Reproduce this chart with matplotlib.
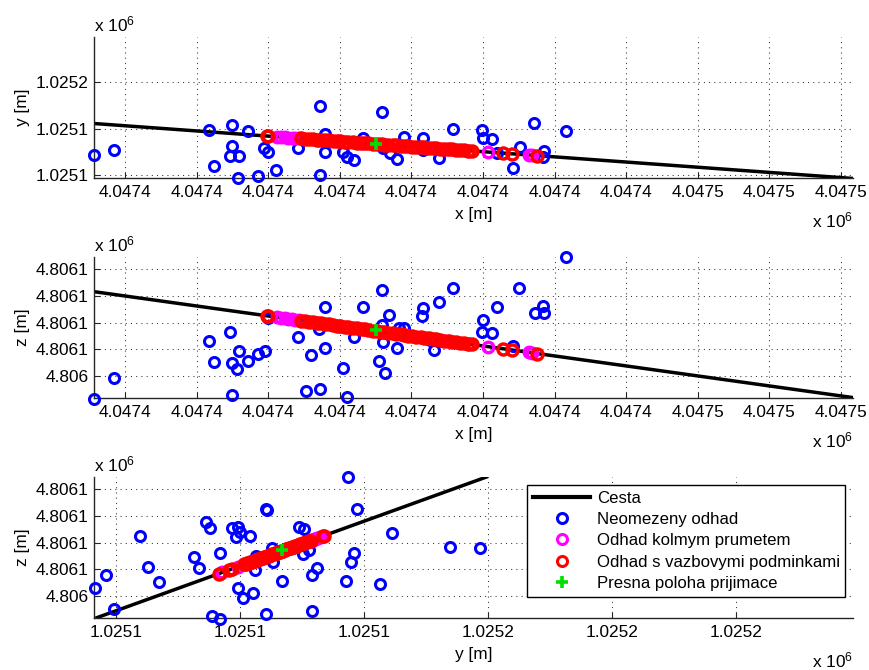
import matplotlib
matplotlib.use("Agg")
import matplotlib.pyplot as plt
from matplotlib.lines import Line2D

plt.rcParams['font.family'] = ['Liberation Sans', 'DejaVu Sans']
plt.rcParams['mathtext.default'] = 'regular'
FS = 12.4
FS_LEG = 12.1

# ---------------- data ----------------
# road (Cesta) end points in 3D
road_x = [4047390.50, 4047460.84]
road_y = [1025149.99, 1025146.85]
road_z = [4806053.46, 4806048.19]

# true receiver position
true_x = [4047427.53]
true_y = [1025148.34]
true_z = [4806050.73]

# unconstrained estimates, x-y view
blue_xy_x = [4047407.84, 4047409.23, 4047415.85, 4047417.49, 4047418.61, 4047417.49, 4047417.31,
             4047417.96, 4047416.22, 4047417.87, 4047419.31, 4047419.69, 4047420.01, 4047420.57,
             4047422.10, 4047423.60, 4047423.97, 4047423.60, 4047423.99, 4047425.24, 4047425.48,
             4047425.99, 4047426.60, 4047427.93, 4047428.04, 4047428.51, 4047429.02, 4047429.48,
             4047430.83, 4047430.79, 4047431.95, 4047432.88, 4047434.91, 4047435.02, 4047435.61,
             4047435.96, 4047437.07, 4047437.58, 4047438.58, 4047439.28, 4047439.21, 4047440.80]
blue_xy_y = [1025147.86, 1025148.08, 1025148.92, 1025149.15, 1025148.88, 1025148.25, 1025147.83,
             1025147.83, 1025147.39, 1025146.86, 1025146.96, 1025148.15, 1025148.00, 1025147.20,
             1025148.15, 1025149.97, 1025148.00, 1025147.00, 1025148.75, 1025148.00, 1025147.79,
             1025147.65, 1025148.58, 1025149.72, 1025148.15, 1025147.93, 1025147.69, 1025148.65,
             1025148.60, 1025148.08, 1025147.72, 1025148.98, 1025148.94, 1025148.58, 1025148.54,
             1025147.93, 1025147.29, 1025148.22, 1025149.25, 1025148.03, 1025147.79, 1025148.89]

# unconstrained estimates, x-z view
blue_xz_x = [4047407.84, 4047409.23, 4047415.85, 4047417.31, 4047416.22, 4047417.96, 4047417.49,
             4047417.84, 4047418.61, 4047419.29, 4047419.76, 4047417.49, 4047420.01, 4047422.10,
             4047422.97, 4047423.97, 4047423.97, 4047423.57, 4047422.66, 4047423.60, 4047425.24,
             4047425.50, 4047425.99, 4047426.60, 4047427.93, 4047428.42, 4047428.02, 4047427.76,
             4047428.14, 4047428.97, 4047427.93, 4047429.13, 4047429.52, 4047430.81, 4047430.72,
             4047431.30, 4047431.58, 4047431.93, 4047432.88, 4047434.98, 4047434.91, 4047435.65,
             4047436.00, 4047437.07, 4047437.54, 4047438.63, 4047439.17, 4047439.28, 4047440.80]
blue_xz_z = [4806048.14, 4806048.91, 4806050.31, 4806050.64, 4806049.54, 4806049.94, 4806049.48,
             4806049.26, 4806049.56, 4806049.81, 4806049.94, 4806048.29, 4806051.16, 4806050.46,
             4806049.77, 4806050.04, 4806051.57, 4806050.76, 4806048.45, 4806048.50, 4806049.30,
             4806048.22, 4806050.48, 4806051.60, 4806052.24, 4806051.29, 4806050.29, 4806049.56,
             4806049.12, 4806050.04, 4806050.91, 4806050.79, 4806050.79, 4806051.54, 4806051.26,
             4806050.35, 4806049.97, 4806051.78, 4806052.29, 4806051.10, 4806050.64, 4806050.60,
             4806051.57, 4806050.14, 4806052.29, 4806051.35, 4806051.62, 4806051.35, 4806053.45]

# unconstrained estimates, y-z view
blue_yz_y = [1025146.83, 1025146.92, 1025146.99, 1025147.20, 1025147.26, 1025147.35, 1025147.63,
             1025147.67, 1025147.73, 1025147.76, 1025147.84, 1025147.78, 1025147.84, 1025147.94,
             1025147.99, 1025148.00, 1025147.97, 1025148.08, 1025147.99, 1025148.03, 1025148.11,
             1025148.12, 1025148.13, 1025148.21, 1025148.22, 1025148.21, 1025148.26, 1025148.27,
             1025148.34, 1025148.48, 1025148.52, 1025148.51, 1025148.56, 1025148.58, 1025148.62,
             1025148.58, 1025148.87, 1025148.95, 1025148.86, 1025148.92, 1025148.90, 1025149.13,
             1025149.23, 1025149.70, 1025149.94]
blue_yz_z = [4806049.29, 4806049.79, 4806048.50, 4806051.26, 4806050.10, 4806049.54, 4806050.47,
             4806050.04, 4806051.78, 4806051.56, 4806050.62, 4806048.25, 4806048.13, 4806051.54,
             4806051.60, 4806051.41, 4806051.20, 4806051.25, 4806049.31, 4806048.91, 4806049.10,
             4806049.97, 4806050.50, 4806052.25, 4806052.22, 4806048.31, 4806050.79, 4806050.29,
             4806049.56, 4806051.57, 4806051.52, 4806050.56, 4806050.72, 4806049.77, 4806050.06,
             4806048.45, 4806053.46, 4806052.27, 4806049.57, 4806050.63, 4806050.29, 4806049.44,
             4806051.35, 4806050.82, 4806050.79]

# perpendicular projection estimates (3D)
mag_x = [4047420.65, 4047420.90, 4047421.15, 4047421.40, 4047421.65, 4047421.90, 4047422.15,
         4047423.50, 4047425.00, 4047426.60, 4047428.00, 4047429.60, 4047431.00, 4047432.50,
         4047434.00, 4047435.37, 4047438.21, 4047438.40]
mag_y = [1025148.644, 1025148.633, 1025148.622, 1025148.611, 1025148.599, 1025148.588, 1025148.577,
         1025148.517, 1025148.450, 1025148.378, 1025148.316, 1025148.245, 1025148.182, 1025148.115,
         1025148.048, 1025147.987, 1025147.860, 1025147.852]
mag_z = [4806051.201, 4806051.182, 4806051.164, 4806051.145, 4806051.126, 4806051.108, 4806051.089,
         4806050.988, 4806050.875, 4806050.755, 4806050.650, 4806050.531, 4806050.426, 4806050.313,
         4806050.201, 4806050.098, 4806049.886, 4806049.871]

# constrained estimates (3D)
red_x = [4047419.92, 4047420.02, 4047422.29, 4047422.55, 4047422.85, 4047423.10, 4047423.40,
         4047423.68, 4047423.95, 4047424.22, 4047424.50, 4047424.80, 4047425.05, 4047425.35,
         4047425.60, 4047425.90, 4047426.18, 4047426.45, 4047426.75, 4047427.00, 4047427.30,
         4047427.58, 4047427.85, 4047428.12, 4047428.40, 4047428.70, 4047428.95, 4047429.25,
         4047429.52, 4047429.80, 4047430.08, 4047430.35, 4047430.65, 4047430.90, 4047431.20,
         4047431.48, 4047431.75, 4047432.02, 4047432.30, 4047432.60, 4047432.85, 4047433.15,
         4047433.42, 4047433.70, 4047433.98, 4047434.23, 4047436.40, 4047437.03, 4047438.79]
red_y = [1025148.677, 1025148.672, 1025148.571, 1025148.559, 1025148.546, 1025148.535, 1025148.521,
         1025148.509, 1025148.497, 1025148.485, 1025148.472, 1025148.459, 1025148.448, 1025148.434,
         1025148.423, 1025148.410, 1025148.397, 1025148.385, 1025148.372, 1025148.361, 1025148.347,
         1025148.335, 1025148.323, 1025148.311, 1025148.298, 1025148.285, 1025148.274, 1025148.260,
         1025148.248, 1025148.236, 1025148.223, 1025148.211, 1025148.198, 1025148.187, 1025148.173,
         1025148.161, 1025148.149, 1025148.137, 1025148.124, 1025148.111, 1025148.100, 1025148.086,
         1025148.074, 1025148.062, 1025148.049, 1025148.038, 1025147.941, 1025147.913, 1025147.834]
red_z = [4806051.256, 4806051.248, 4806051.078, 4806051.059, 4806051.036, 4806051.018, 4806050.995,
         4806050.974, 4806050.954, 4806050.934, 4806050.913, 4806050.890, 4806050.872, 4806050.849,
         4806050.830, 4806050.808, 4806050.787, 4806050.767, 4806050.744, 4806050.725, 4806050.703,
         4806050.682, 4806050.662, 4806050.642, 4806050.621, 4806050.598, 4806050.579, 4806050.557,
         4806050.537, 4806050.516, 4806050.495, 4806050.474, 4806050.452, 4806050.433, 4806050.411,
         4806050.390, 4806050.370, 4806050.349, 4806050.328, 4806050.306, 4806050.287, 4806050.265,
         4806050.244, 4806050.223, 4806050.202, 4806050.184, 4806050.021, 4806049.974, 4806049.842]

# ticks / labels
x_ticks = [4047410, 4047415, 4047420, 4047425, 4047430, 4047435, 4047440, 4047445, 4047450, 4047455, 4047460]
x_tick_labels = ['4.0474'] * 8 + ['4.0475'] * 3
y_ticks_1 = [1025147, 1025149, 1025151]
y_tick_labels_1 = ['1.0251', '1.0251', '1.0252']
y_ticks_3 = [1025147, 1025148, 1025149, 1025150, 1025151, 1025152]
y_tick_labels_3 = ['1.0251'] * 3 + ['1.0252'] * 3
z_ticks = [4806049, 4806050, 4806051, 4806052, 4806053]
z_tick_labels = ['4.806', '4.8061', '4.8061', '4.8061', '4.8061']

x_lim = [4047407.84, 4047460.84]
y_lim_1 = [1025146.87, 1025152.94]
y_lim_3 = [1025146.825, 1025152.946]
z_lim = [4806048.175, 4806053.46]

legend_labels = ['Cesta', 'Neomezeny odhad', 'Odhad kolmym prumetem',
                 'Odhad s vazbovymi podminkami', 'Presna poloha prijimace']

# ---------------- style ----------------
C_BLUE = '#0000ff'
C_MAG = '#ff00ff'
C_RED = '#ff0000'
C_GREEN = '#00e000'
blue_kw = dict(ls='none', marker='o', ms=7.2, mew=2.2, mfc='none', mec=C_BLUE, clip_on=False, zorder=3)
mag_kw = dict(ls='none', marker='o', ms=7.6, mew=2.4, mfc='none', mec=C_MAG, clip_on=False, zorder=4)
red_kw = dict(ls='none', marker='o', ms=7.9, mew=2.5, mfc='none', mec=C_RED, clip_on=False, zorder=5)
green_kw = dict(ls='none', marker='+', ms=8.5, mew=2.6, color=C_GREEN, clip_on=False, zorder=6)
road_kw = dict(color='k', lw=2.5, zorder=2)

fig = plt.figure(figsize=(8.69, 6.70), dpi=100)
L, W, H = 94 / 869, 759 / 869, 141 / 670
bottoms = [1 - 178 / 670, 1 - 398 / 670, 1 - 618 / 670]


def style_axes(ax, xticks, xlabels, yticks, ylabels, xlim, ylim, xlab, ylab):
    ax.set_xlim(xlim)
    ax.set_ylim(ylim)
    ax.set_xticks(xticks)
    ax.set_xticklabels(xlabels)
    ax.set_yticks(yticks)
    ax.set_yticklabels(ylabels)
    for s in ['top', 'right']:
        ax.spines[s].set_visible(False)
    for s in ['left', 'bottom']:
        ax.spines[s].set_color('#262626')
        ax.spines[s].set_linewidth(1.0)
    ax.tick_params(direction='in', length=4, width=0.8, color='#262626', labelsize=FS)
    ax.tick_params(axis='x', pad=5)
    ax.tick_params(axis='y', pad=4)
    ax.grid(True, linestyle=(0, (1, 4)), color='#333333', lw=0.75)
    ax.set_axisbelow(True)
    ax.set_xlabel(xlab, fontsize=FS)
    ax.set_ylabel(ylab, fontsize=FS)
    ax.xaxis.set_label_coords(0.5, -37 / 141)
    ax.xaxis.label.set_va('center')
    ax.yaxis.set_label_coords(-72 / 759, 0.5)
    ax.yaxis.label.set_va('center')
    ax.text(0.0, 1 + 13 / 141, r'x 10$^{6}$', transform=ax.transAxes, fontsize=FS,
            ha='left', va='center')
    ax.text(1.0, -42 / 141, r'x 10$^{6}$', transform=ax.transAxes, fontsize=FS,
            ha='right', va='center')


# subplot 1: x-y
ax1 = fig.add_axes([L, bottoms[0], W, H])
ax1.plot(road_x, road_y, **road_kw)
ax1.plot(blue_xy_x, blue_xy_y, **blue_kw)
ax1.plot(mag_x, mag_y, **mag_kw)
ax1.plot(red_x, red_y, **red_kw)
ax1.plot(true_x, true_y, **green_kw)
style_axes(ax1, x_ticks, x_tick_labels, y_ticks_1, y_tick_labels_1, x_lim, y_lim_1, 'x [m]', 'y [m]')

# subplot 2: x-z
ax2 = fig.add_axes([L, bottoms[1], W, H])
ax2.plot(road_x, road_z, **road_kw)
ax2.plot(blue_xz_x, blue_xz_z, **blue_kw)
ax2.plot(mag_x, mag_z, **mag_kw)
ax2.plot(red_x, red_z, **red_kw)
ax2.plot(true_x, true_z, **green_kw)
style_axes(ax2, x_ticks, x_tick_labels, z_ticks, z_tick_labels, x_lim, z_lim, 'x [m]', 'z [m]')

# subplot 3: y-z
ax3 = fig.add_axes([L, bottoms[2], W, H])
ax3.plot(road_y, road_z, **road_kw)
ax3.plot(blue_yz_y, blue_yz_z, **blue_kw)
ax3.plot(mag_y, mag_z, **mag_kw)
ax3.plot(red_y, red_z, **red_kw)
ax3.plot(true_y, true_z, **green_kw)
style_axes(ax3, y_ticks_3, y_tick_labels_3, z_ticks, z_tick_labels, y_lim_3, z_lim, 'y [m]', 'z [m]')

handles = [
    Line2D([], [], color='k', lw=3),
    Line2D([], [], ls='none', marker='o', ms=7.2, mew=2.2, mfc='none', mec=C_BLUE),
    Line2D([], [], ls='none', marker='o', ms=7.2, mew=2.2, mfc='none', mec=C_MAG),
    Line2D([], [], ls='none', marker='o', ms=7.2, mew=2.2, mfc='none', mec=C_RED),
    Line2D([], [], ls='none', marker='+', ms=8, mew=2.6, color=C_GREEN),
]
leg = ax3.legend(handles, legend_labels, loc='upper left',
                 bbox_to_anchor=((527.7 - 94.3) / 759, (618 - 485) / 141),
                 borderaxespad=0, fontsize=FS_LEG, frameon=True, fancybox=False,
                 edgecolor='k', framealpha=1, handlelength=3.4, handletextpad=0.39,
                 labelspacing=0.38, borderpad=0.33, numpoints=1)
leg.get_frame().set_linewidth(1.0)
leg.set_zorder(10)

fig.savefig('out.png', dpi=100)
